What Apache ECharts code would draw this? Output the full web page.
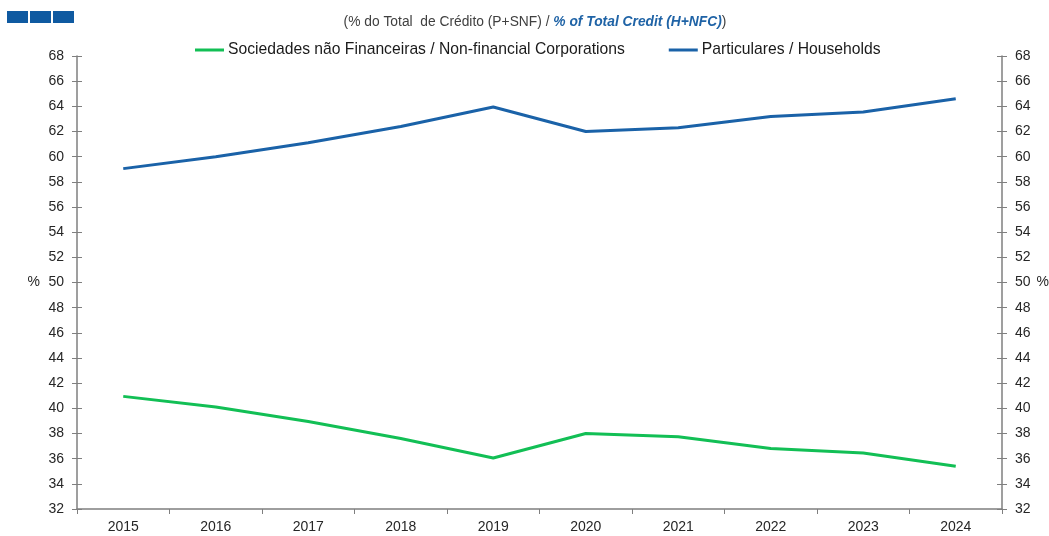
<!DOCTYPE html>
<html>
<head>
<meta charset="utf-8">
<script src="https://cdn.jsdelivr.net/npm/echarts@6/dist/echarts.min.js"></script>
<style>
  html, body { margin: 0; padding: 0; background: #fff; }
  #chart { width: 1049px; height: 536px; }
</style>
</head>
<body>
<div id="chart"></div>
<script>
const years = ['2015', '2016', '2017', '2018', '2019', '2020', '2021', '2022', '2023', '2024']
const nfcShare = [40.95, 40.1, 38.95, 37.6, 36.05, 38.0, 37.75, 36.8, 36.45, 35.4]
const householdShare = [59.05, 60.0, 61.1, 62.4, 63.95, 62.0, 62.3, 63.2, 63.55, 64.6]
const nfcName = 'Sociedades não Financeiras / Non-financial Corporations'
const householdName = 'Particulares / Households'

const font = 'Liberation Sans, Arial, sans-serif'
const axisGray = '#7f7f7f'
const labelColor = '#262626'

const chartDom = document.getElementById('chart')
const chartInstance = echarts.init(chartDom)

// y axis with labels, ticks pointing outward
const valueAxis = function (position, nameGap) {
    return {
        type: 'value',
        position: position,
        min: 32,
        max: 68,
        interval: 2,
        name: '%',
        nameLocation: 'middle',
        nameRotate: 0,
        nameGap: nameGap,
        nameTextStyle: { color: labelColor, fontFamily: font, fontSize: 14 },
        axisLine: { show: true, lineStyle: { color: axisGray, width: 1.5 } },
        axisTick: { show: true, inside: false, length: 5, lineStyle: { color: axisGray } },
        axisLabel: { color: labelColor, fontFamily: font, fontSize: 14, margin: 13 },
        splitLine: { show: false }
    }
}
// second copy of each y axis only for the inward half of the ticks
const innerTicks = function (position) {
    return {
        type: 'value',
        position: position,
        min: 32,
        max: 68,
        interval: 2,
        axisLine: { show: false },
        axisTick: { show: true, inside: true, length: 5, lineStyle: { color: axisGray } },
        axisLabel: { show: false },
        splitLine: { show: false }
    }
}

const option = {
    animation: false,
    title: {
        left: 530,
        top: 10,
        textAlign: 'center',
        text: '{a|(% do Total  de Crédito (P+SNF) / }{b|% of Total Credit (H+NFC)}{a|)}',
        textStyle: {
            fontWeight: 'normal',
            rich: {
                a: { color: '#404040', fontFamily: font, fontSize: 13.8, fontWeight: 'normal' },
                b: { color: '#1f63a6', fontFamily: font, fontSize: 13.8, fontWeight: 'bold', fontStyle: 'italic' }
            }
        }
    },
    legend: {
        top: 37,
        left: 190,
        itemWidth: 29,
        itemHeight: 3,
        itemGap: 44,
        icon: 'rect',
        textStyle: { color: '#1a1a1a', fontFamily: font, fontSize: 15.7, padding: [0, 0, 0, -1] },
        data: [nfcName, householdName]
    },
    graphic: [
        { type: 'rect', left: 7, top: 11, shape: { width: 21, height: 12 }, style: { fill: '#0f5aa1' } },
        { type: 'rect', left: 30, top: 11, shape: { width: 21, height: 12 }, style: { fill: '#0f5aa1' } },
        { type: 'rect', left: 53, top: 11, shape: { width: 21, height: 12 }, style: { fill: '#0f5aa1' } }
    ],
    grid: {
        top: 56,
        left: 77,
        right: 47,
        bottom: 27,
        outerBoundsMode: 'none'
    },
    xAxis: {
        type: 'category',
        boundaryGap: true,
        data: years,
        axisLine: { show: true, lineStyle: { color: axisGray, width: 1.5 } },
        axisTick: { show: true, inside: false, length: 5, lineStyle: { color: axisGray } },
        axisLabel: { color: labelColor, fontFamily: font, fontSize: 14, margin: 11 }
    },
    yAxis: [
        valueAxis('left', 37),
        valueAxis('right', 34),
        innerTicks('left'),
        innerTicks('right')
    ],
    series: [
        {
            name: nfcName,
            type: 'line',
            symbol: 'none',
            yAxisIndex: 0,
            lineStyle: { color: '#12bf55', width: 3 },
            itemStyle: { color: '#12bf55' },
            data: nfcShare
        },
        {
            name: householdName,
            type: 'line',
            symbol: 'none',
            yAxisIndex: 0,
            lineStyle: { color: '#1a62a8', width: 3 },
            itemStyle: { color: '#1a62a8' },
            data: householdShare
        }
    ]
}

option && chartInstance.setOption(option)
</script>
</body>
</html>
